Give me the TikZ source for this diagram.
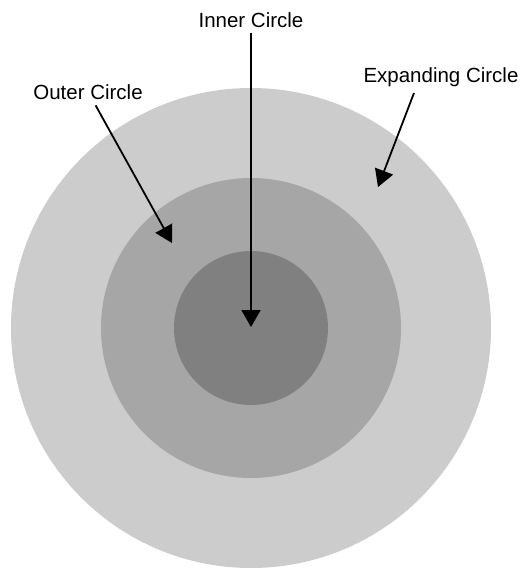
\documentclass[tikz,border=0pt]{standalone}
\usepackage{fontspec}
\setmainfont{Liberation Sans}
\usetikzlibrary{arrows.meta, positioning}
\definecolor{ringlight}{HTML}{CCCCCC}
\definecolor{ringmid}{HTML}{A6A6A6}
\definecolor{ringdark}{HTML}{808080}

\begin{document}
\begin{tikzpicture}[
    x=1pt, y=-1pt,
    every node/.style={font=\fontsize{20.5}{24}\selectfont},
    disc/.style={
        circle,
        draw=none,
        inner sep=0pt
    },
    tag/.style={
        inner sep=6pt,
        anchor=base
    },
    arrow/.style={
        -{Triangle[length=17pt, width=19pt]},
        line width=1.8pt
    }
]
\useasboundingbox (0,0) rectangle (522,568);

\node[disc, fill=ringlight, minimum size=480pt] (expanding) at (251,328) {};
\node[disc, fill=ringmid, minimum size=300pt] (outerring) at (251,328) {};
\node[disc, fill=ringdark, minimum size=154pt] (innerring) at (251,328) {};

\node[tag] (innerlabel) at (251,27) {Inner Circle};
\node[tag] (outerlabel) at (88,99) {Outer Circle};
\node[tag] (expandlabel) at (441,82.5) {Expanding Circle};

\coordinate (innertip) at (251,327);
\coordinate (outertip) at (172,243);
\coordinate (expandtip) at (378,187);

\draw[arrow] (innerlabel.south) -- (innertip);
\draw[arrow] (outerlabel) -- (outertip);
\draw[arrow] ([xshift=-27pt]expandlabel.south) -- (expandtip);

\end{tikzpicture}
\end{document}
